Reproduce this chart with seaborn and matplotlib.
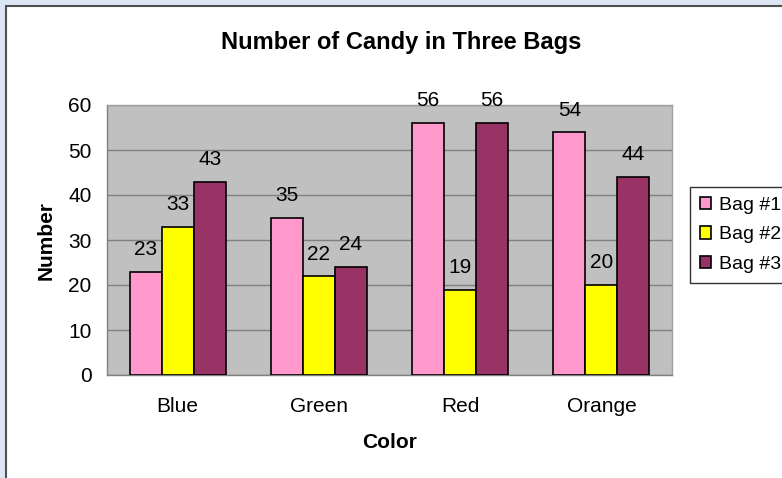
import matplotlib
matplotlib.use("Agg")
import matplotlib.pyplot as plt
import seaborn as sns
import pandas as pd
from matplotlib.patches import Rectangle

# data
colors = ["Blue", "Green", "Red", "Orange"]
bag1 = [23, 35, 56, 54]
bag2 = [33, 22, 19, 20]
bag3 = [43, 24, 56, 44]
bags = ["Bag #1", "Bag #2", "Bag #3"]
palette = ["#FF99CC", "#FFFF00", "#993366"]

df = pd.DataFrame({
    "Color": colors * 3,
    "Number": bag1 + bag2 + bag3,
    "Bag": [b for b in bags for _ in colors],
})

sns.set_style("white")
plt.rcParams["font.family"] = ["Liberation Sans", "DejaVu Sans"]
plt.rcParams["text.color"] = "black"
plt.rcParams["axes.labelcolor"] = "black"
plt.rcParams["xtick.labelcolor"] = "black"
plt.rcParams["ytick.labelcolor"] = "black"

fig = plt.figure(figsize=(7.82, 4.78), dpi=100, facecolor="#DCE6F2")
# white chart area with dark border (cut at right/bottom)
fig.patches.append(Rectangle((6 / 782, -0.1), 1.2, 1.1 - 5.5 / 478,
                             transform=fig.transFigure, facecolor="white",
                             edgecolor="#505050", linewidth=1.5, zorder=-1))

ax = fig.add_axes([107 / 782, 1 - 375 / 478, (672 - 107) / 782, (375 - 105) / 478])
ax.set_zorder(1)
ax.set_facecolor("#C0C0C0")

sns.barplot(data=df, x="Color", y="Number", hue="Bag", palette=palette,
            width=0.68, edgecolor="black", linewidth=1.2, saturation=1,
            ax=ax, zorder=3)

for c in ax.containers:
    ax.bar_label(c, padding=9, fontsize=15)

ax.set_ylim(0, 60)
ax.set_yticks(range(0, 61, 10))
ax.yaxis.grid(True, color="#808080", linewidth=1, zorder=0)
ax.set_axisbelow(True)

# category ticks sit between groups like in Excel
ax.set_xlim(-0.5, 3.5)
ax.set_xticks([-0.5, 0.5, 1.5, 2.5, 3.5], minor=True)
ax.tick_params(axis="x", which="major", length=0, pad=16, labelsize=15)
ax.tick_params(axis="x", which="minor", length=5, direction="out", color="#808080", width=1)
ax.tick_params(axis="y", length=6, direction="out", color="#808080", width=1, labelsize=15, pad=5)

for s in ["left", "bottom"]:
    ax.spines[s].set_color("#808080")
    ax.spines[s].set_linewidth(1)
for s in ["top", "right"]:
    ax.spines[s].set_color("#A0A0A0")
    ax.spines[s].set_linewidth(1)

ax.set_xlabel("Color", fontsize=15, fontweight="bold", labelpad=12)
ax.set_ylabel("Number", fontsize=15, fontweight="bold", labelpad=9)
fig.suptitle("Number of Candy in Three Bags", x=0.513, y=1 - 42 / 478, va="center",
             fontsize=17, fontweight="bold")

ax.legend_.remove()
handles, labels = ax.get_legend_handles_labels()
leg = fig.legend(handles, labels, loc="upper left",
                 bbox_to_anchor=(690 / 782, 1 - 187 / 478),
                 frameon=True, fancybox=False, edgecolor="black",
                 fontsize=14, handlelength=0.6, handleheight=0.6,
                 handletextpad=0.4, labelspacing=0.65, borderpad=0.5,
                 borderaxespad=0)
leg.get_frame().set_linewidth(1)

fig.savefig("out.png", dpi=100, facecolor=fig.get_facecolor())
